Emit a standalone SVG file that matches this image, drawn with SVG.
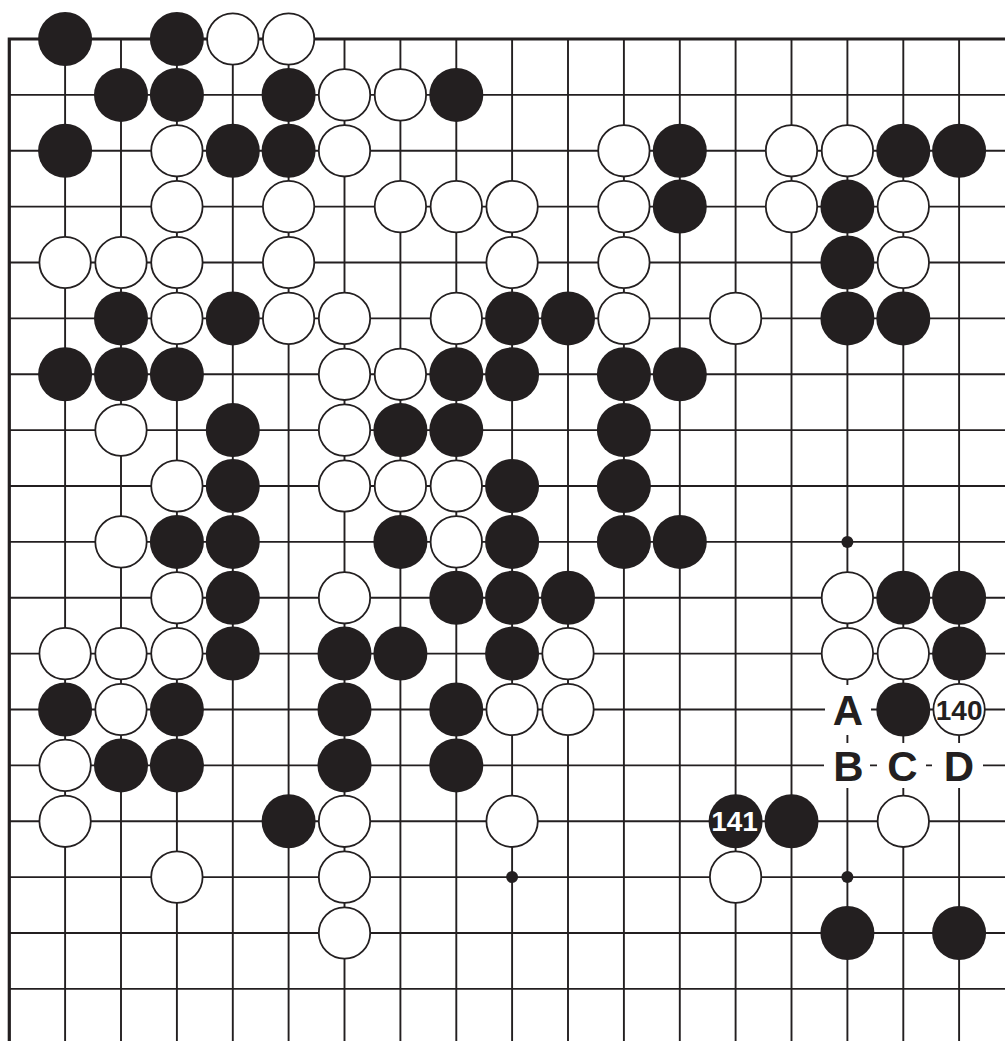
<svg xmlns="http://www.w3.org/2000/svg" xmlns:xlink="http://www.w3.org/1999/xlink" width="1005" height="1041" viewBox="0 0 1005 1041">
<style>
.grid line{stroke:#231f20;stroke-width:1.9}
.border{fill:none;stroke:#231f20;stroke-width:3.2;stroke-linejoin:miter;stroke-linecap:butt}
.bs{fill:#231f20}
.ws{fill:#ffffff;stroke:#231f20;stroke-width:1.8}
.hoshi{fill:#231f20}
.mask{fill:#ffffff}
.lbl{font-family:"Liberation Sans",Arial,sans-serif;font-weight:bold;font-size:42px;fill:#231f20;text-anchor:middle}
.num{font-family:"Liberation Sans",Arial,sans-serif;font-weight:bold;font-size:28px;text-anchor:middle}
</style>
<defs>
<circle id="b" r="27" class="bs"/>
<circle id="w" r="25.7" class="ws"/>
</defs>
<rect width="1005" height="1041" fill="#ffffff"/>
<g id="connectors" class="grid">
<line x1="65.1" y1="39" x2="65.1" y2="1041"/>
<line x1="121" y1="39" x2="121" y2="1041"/>
<line x1="176.9" y1="39" x2="176.9" y2="1041"/>
<line x1="232.8" y1="39" x2="232.8" y2="1041"/>
<line x1="288.6" y1="39" x2="288.6" y2="1041"/>
<line x1="344.5" y1="39" x2="344.5" y2="1041"/>
<line x1="400.4" y1="39" x2="400.4" y2="1041"/>
<line x1="456.3" y1="39" x2="456.3" y2="1041"/>
<line x1="512.1" y1="39" x2="512.1" y2="1041"/>
<line x1="568" y1="39" x2="568" y2="1041"/>
<line x1="623.9" y1="39" x2="623.9" y2="1041"/>
<line x1="679.8" y1="39" x2="679.8" y2="1041"/>
<line x1="735.6" y1="39" x2="735.6" y2="1041"/>
<line x1="791.5" y1="39" x2="791.5" y2="1041"/>
<line x1="847.4" y1="39" x2="847.4" y2="1041"/>
<line x1="903.3" y1="39" x2="903.3" y2="1041"/>
<line x1="959.1" y1="39" x2="959.1" y2="1041"/>
<line x1="9.3" y1="94.9" x2="1005" y2="94.9"/>
<line x1="9.3" y1="150.8" x2="1005" y2="150.8"/>
<line x1="9.3" y1="206.6" x2="1005" y2="206.6"/>
<line x1="9.3" y1="262.5" x2="1005" y2="262.5"/>
<line x1="9.3" y1="318.4" x2="1005" y2="318.4"/>
<line x1="9.3" y1="374.3" x2="1005" y2="374.3"/>
<line x1="9.3" y1="430.1" x2="1005" y2="430.1"/>
<line x1="9.3" y1="486" x2="1005" y2="486"/>
<line x1="9.3" y1="541.9" x2="1005" y2="541.9"/>
<line x1="9.3" y1="597.8" x2="1005" y2="597.8"/>
<line x1="9.3" y1="653.6" x2="1005" y2="653.6"/>
<line x1="9.3" y1="709.5" x2="1005" y2="709.5"/>
<line x1="9.3" y1="765.4" x2="1005" y2="765.4"/>
<line x1="9.3" y1="821.3" x2="1005" y2="821.3"/>
<line x1="9.3" y1="877.1" x2="1005" y2="877.1"/>
<line x1="9.3" y1="933" x2="1005" y2="933"/>
<line x1="9.3" y1="988.9" x2="1005" y2="988.9"/>
<path class="border" d="M9.3 1041 V39 H1005"/>
</g>
<g id="hoshi">
<circle class="hoshi" cx="847.4" cy="541.9" r="6"/>
<circle class="hoshi" cx="512.1" cy="877.1" r="6"/>
<circle class="hoshi" cx="847.4" cy="877.1" r="6"/>
</g>
<g id="black-stones">
<use xlink:href="#b" x="65.1" y="39"/>
<use xlink:href="#b" x="176.9" y="39"/>
<use xlink:href="#b" x="121" y="94.9"/>
<use xlink:href="#b" x="176.9" y="94.9"/>
<use xlink:href="#b" x="288.6" y="94.9"/>
<use xlink:href="#b" x="456.3" y="94.9"/>
<use xlink:href="#b" x="65.1" y="150.8"/>
<use xlink:href="#b" x="232.8" y="150.8"/>
<use xlink:href="#b" x="288.6" y="150.8"/>
<use xlink:href="#b" x="679.8" y="150.8"/>
<use xlink:href="#b" x="903.3" y="150.8"/>
<use xlink:href="#b" x="959.1" y="150.8"/>
<use xlink:href="#b" x="679.8" y="206.6"/>
<use xlink:href="#b" x="847.4" y="206.6"/>
<use xlink:href="#b" x="847.4" y="262.5"/>
<use xlink:href="#b" x="121" y="318.4"/>
<use xlink:href="#b" x="232.8" y="318.4"/>
<use xlink:href="#b" x="512.1" y="318.4"/>
<use xlink:href="#b" x="568" y="318.4"/>
<use xlink:href="#b" x="847.4" y="318.4"/>
<use xlink:href="#b" x="903.3" y="318.4"/>
<use xlink:href="#b" x="65.1" y="374.3"/>
<use xlink:href="#b" x="121" y="374.3"/>
<use xlink:href="#b" x="176.9" y="374.3"/>
<use xlink:href="#b" x="456.3" y="374.3"/>
<use xlink:href="#b" x="512.1" y="374.3"/>
<use xlink:href="#b" x="623.9" y="374.3"/>
<use xlink:href="#b" x="679.8" y="374.3"/>
<use xlink:href="#b" x="232.8" y="430.1"/>
<use xlink:href="#b" x="400.4" y="430.1"/>
<use xlink:href="#b" x="456.3" y="430.1"/>
<use xlink:href="#b" x="623.9" y="430.1"/>
<use xlink:href="#b" x="232.8" y="486"/>
<use xlink:href="#b" x="512.1" y="486"/>
<use xlink:href="#b" x="623.9" y="486"/>
<use xlink:href="#b" x="176.9" y="541.9"/>
<use xlink:href="#b" x="232.8" y="541.9"/>
<use xlink:href="#b" x="400.4" y="541.9"/>
<use xlink:href="#b" x="512.1" y="541.9"/>
<use xlink:href="#b" x="623.9" y="541.9"/>
<use xlink:href="#b" x="679.8" y="541.9"/>
<use xlink:href="#b" x="232.8" y="597.8"/>
<use xlink:href="#b" x="456.3" y="597.8"/>
<use xlink:href="#b" x="512.1" y="597.8"/>
<use xlink:href="#b" x="568" y="597.8"/>
<use xlink:href="#b" x="903.3" y="597.8"/>
<use xlink:href="#b" x="959.1" y="597.8"/>
<use xlink:href="#b" x="232.8" y="653.6"/>
<use xlink:href="#b" x="344.5" y="653.6"/>
<use xlink:href="#b" x="400.4" y="653.6"/>
<use xlink:href="#b" x="512.1" y="653.6"/>
<use xlink:href="#b" x="959.1" y="653.6"/>
<use xlink:href="#b" x="65.1" y="709.5"/>
<use xlink:href="#b" x="176.9" y="709.5"/>
<use xlink:href="#b" x="344.5" y="709.5"/>
<use xlink:href="#b" x="456.3" y="709.5"/>
<use xlink:href="#b" x="903.3" y="709.5"/>
<use xlink:href="#b" x="121" y="765.4"/>
<use xlink:href="#b" x="176.9" y="765.4"/>
<use xlink:href="#b" x="344.5" y="765.4"/>
<use xlink:href="#b" x="456.3" y="765.4"/>
<use xlink:href="#b" x="288.6" y="821.3"/>
<use xlink:href="#b" x="791.5" y="821.3"/>
<use xlink:href="#b" x="847.4" y="933"/>
<use xlink:href="#b" x="959.1" y="933"/>
</g>
<g id="white-stones">
<use xlink:href="#w" x="232.8" y="39"/>
<use xlink:href="#w" x="288.6" y="39"/>
<use xlink:href="#w" x="344.5" y="94.9"/>
<use xlink:href="#w" x="400.4" y="94.9"/>
<use xlink:href="#w" x="176.9" y="150.8"/>
<use xlink:href="#w" x="344.5" y="150.8"/>
<use xlink:href="#w" x="623.9" y="150.8"/>
<use xlink:href="#w" x="791.5" y="150.8"/>
<use xlink:href="#w" x="847.4" y="150.8"/>
<use xlink:href="#w" x="176.9" y="206.6"/>
<use xlink:href="#w" x="288.6" y="206.6"/>
<use xlink:href="#w" x="400.4" y="206.6"/>
<use xlink:href="#w" x="456.3" y="206.6"/>
<use xlink:href="#w" x="512.1" y="206.6"/>
<use xlink:href="#w" x="623.9" y="206.6"/>
<use xlink:href="#w" x="791.5" y="206.6"/>
<use xlink:href="#w" x="903.3" y="206.6"/>
<use xlink:href="#w" x="65.1" y="262.5"/>
<use xlink:href="#w" x="121" y="262.5"/>
<use xlink:href="#w" x="176.9" y="262.5"/>
<use xlink:href="#w" x="288.6" y="262.5"/>
<use xlink:href="#w" x="512.1" y="262.5"/>
<use xlink:href="#w" x="623.9" y="262.5"/>
<use xlink:href="#w" x="903.3" y="262.5"/>
<use xlink:href="#w" x="176.9" y="318.4"/>
<use xlink:href="#w" x="288.6" y="318.4"/>
<use xlink:href="#w" x="344.5" y="318.4"/>
<use xlink:href="#w" x="456.3" y="318.4"/>
<use xlink:href="#w" x="623.9" y="318.4"/>
<use xlink:href="#w" x="735.6" y="318.4"/>
<use xlink:href="#w" x="344.5" y="374.3"/>
<use xlink:href="#w" x="400.4" y="374.3"/>
<use xlink:href="#w" x="121" y="430.1"/>
<use xlink:href="#w" x="344.5" y="430.1"/>
<use xlink:href="#w" x="176.9" y="486"/>
<use xlink:href="#w" x="344.5" y="486"/>
<use xlink:href="#w" x="400.4" y="486"/>
<use xlink:href="#w" x="456.3" y="486"/>
<use xlink:href="#w" x="121" y="541.9"/>
<use xlink:href="#w" x="456.3" y="541.9"/>
<use xlink:href="#w" x="176.9" y="597.8"/>
<use xlink:href="#w" x="344.5" y="597.8"/>
<use xlink:href="#w" x="847.4" y="597.8"/>
<use xlink:href="#w" x="65.1" y="653.6"/>
<use xlink:href="#w" x="121" y="653.6"/>
<use xlink:href="#w" x="176.9" y="653.6"/>
<use xlink:href="#w" x="568" y="653.6"/>
<use xlink:href="#w" x="847.4" y="653.6"/>
<use xlink:href="#w" x="903.3" y="653.6"/>
<use xlink:href="#w" x="121" y="709.5"/>
<use xlink:href="#w" x="512.1" y="709.5"/>
<use xlink:href="#w" x="568" y="709.5"/>
<use xlink:href="#w" x="65.1" y="765.4"/>
<use xlink:href="#w" x="65.1" y="821.3"/>
<use xlink:href="#w" x="344.5" y="821.3"/>
<use xlink:href="#w" x="512.1" y="821.3"/>
<use xlink:href="#w" x="903.3" y="821.3"/>
<use xlink:href="#w" x="176.9" y="877.1"/>
<use xlink:href="#w" x="344.5" y="877.1"/>
<use xlink:href="#w" x="735.6" y="877.1"/>
<use xlink:href="#w" x="344.5" y="933"/>
</g>
<g id="move-140">
<use xlink:href="#w" x="959.1" y="709.5"/>
<text class="num" x="959.1" y="719.6" fill="#231f20">140</text>
</g>
<g id="move-141">
<use xlink:href="#b" x="735.6" y="821.3"/>
<text class="num" x="734.5" y="831.4" fill="#ffffff">141</text>
</g>
<g id="label-A">
<rect class="mask" x="825" y="685" width="46" height="50"/>
<text class="lbl" x="848" y="725">A</text>
</g>
<g id="label-B">
<rect class="mask" x="824" y="743" width="46" height="45"/>
<text class="lbl" x="848.5" y="780.5">B</text>
</g>
<g id="label-C">
<rect class="mask" x="877" y="743" width="49" height="45"/>
<text class="lbl" x="902.5" y="780.5">C</text>
</g>
<g id="label-D">
<rect class="mask" x="932" y="743" width="51" height="45"/>
<text class="lbl" x="959" y="780.5">D</text>
</g>
</svg>
